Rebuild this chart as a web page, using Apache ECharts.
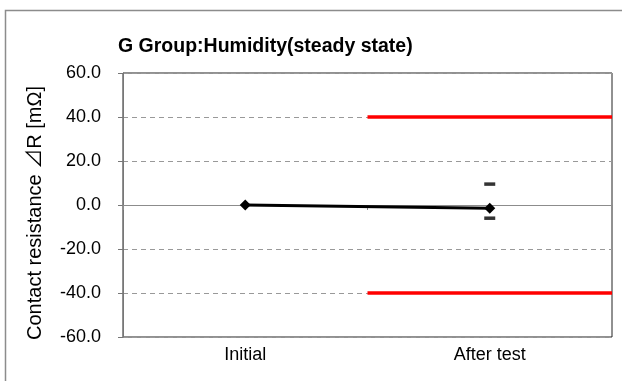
<!DOCTYPE html>
<html>
<head>
<meta charset="utf-8">
<script src="https://cdn.jsdelivr.net/npm/echarts@6/dist/echarts.min.js"></script>
<style>html,body{margin:0;padding:0;background:#fff;}#c{width:622px;height:381px;}</style>
</head>
<body>
<div id="c"></div>
<script>
const titleText = 'G Group:Humidity(steady state)';
const yName = 'Contact resistance ⊿R [mΩ]';
const categories = ['Initial', 'After test'];
const avgValues = [0.0, -1.5];
const maxValues = [null, 9.5];
const minValues = [null, -6.0];
const upperLimit = [[1, 40], [2, 40]];
const lowerLimit = [[1, -40], [2, -40]];
const yMin = -60, yMax = 60, yStep = 20;

const FONT = '"Liberation Sans", Arial, sans-serif';
const NAMEFONT = '"Liberation Sans", "Noto Sans CJK JP", sans-serif';
const chart = echarts.init(document.getElementById('c'), null, {renderer: 'canvas'});
chart.setOption({
  animation: false,
  backgroundColor: '#fff',
  graphic: [{
    type: 'polyline', shape: {points: [[5.5, 400], [5.5, 10.5], [640, 10.5]]},
    style: {fill: null, stroke: '#8c8c8c', lineWidth: 1.5}, silent: true, z: -10
  }],
  title: {
    text: titleText, left: 113, top: 32,
    textStyle: {fontFamily: FONT, fontSize: 19.5, fontWeight: 'bold', color: '#000'}
  },
  grid: {left: 123, right: 10, top: 73, bottom: 44, show: true, borderColor: '#222', borderWidth: 1, backgroundColor: '#fff'},
  xAxis: [{
    type: 'category', data: categories, boundaryGap: true, position: 'bottom',
    axisLine: {show: false, onZero: false}, axisTick: {show: false},
    axisLabel: {fontFamily: FONT, fontSize: 18, color: '#000', margin: 9},
    splitLine: {show: false}
  }, {
    type: 'category', data: categories, boundaryGap: true, position: 'bottom',
    axisLine: {show: true, onZero: true, onZeroAxisIndex: 0, lineStyle: {color: '#8c8c8c', width: 1}},
    axisTick: {show: true, length: 5, lineStyle: {color: '#8c8c8c'}},
    axisLabel: {show: false}, splitLine: {show: false}, z: 4
  }, {
    type: 'value', min: 0, max: 2, show: false, position: 'top',
    axisLine: {onZero: false}
  }],
  yAxis: {
    type: 'value', min: yMin, max: yMax, interval: yStep,
    name: yName, nameLocation: 'middle', nameGap: 78, nameRotate: 90,
    nameTextStyle: {fontFamily: NAMEFONT, fontSize: 20, color: '#000', padding: [0, 16, 0, 0]},
    axisLine: {show: true, onZero: false, lineStyle: {color: '#777'}},
    axisTick: {show: true, length: 5, lineStyle: {color: '#777'}},
    axisLabel: {fontFamily: FONT, fontSize: 18, color: '#000', margin: 22, formatter: v => v.toFixed(1)},
    splitLine: {show: true, lineStyle: {color: '#999', type: [5, 4], width: 1}}
  },
  series: [{
    type: 'line', xAxisIndex: 2, data: upperLimit, symbol: 'none',
    lineStyle: {color: '#ff0000', width: 3.5}, z: 3
  }, {
    type: 'line', xAxisIndex: 2, data: lowerLimit, symbol: 'none',
    lineStyle: {color: '#ff0000', width: 3.5}, z: 3
  }, {
    type: 'line', xAxisIndex: 0, data: avgValues, symbol: 'diamond', symbolSize: 11,
    itemStyle: {color: '#000'}, lineStyle: {color: '#000', width: 3}, z: 5
  }, {
    type: 'scatter', xAxisIndex: 0, data: maxValues, symbol: 'rect', symbolSize: [11, 3.5],
    itemStyle: {color: '#000'}, z: 5
  }, {
    type: 'scatter', xAxisIndex: 0, data: minValues, symbol: 'rect', symbolSize: [11, 3.5],
    itemStyle: {color: '#000'}, z: 5
  }]
});
</script>
</body>
</html>
